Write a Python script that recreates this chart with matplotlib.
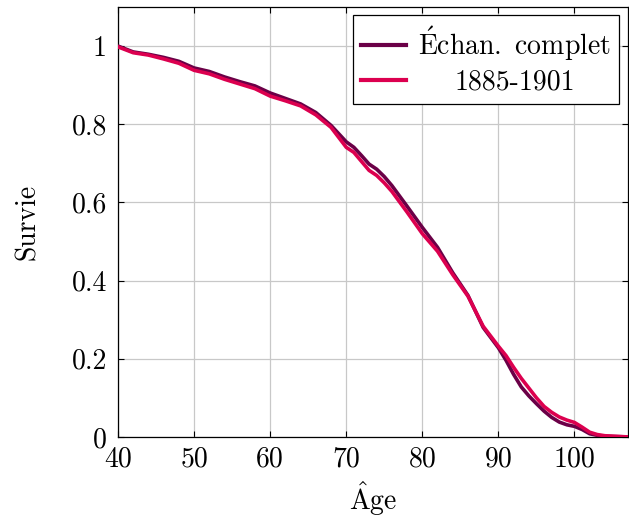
import matplotlib
matplotlib.use('Agg')
import matplotlib.pyplot as plt

# ages and survival values
ages = [40, 42, 44, 46, 48, 50, 52, 54, 56, 58, 60, 62, 64, 66, 68, 70, 71, 72, 73,
        74, 75, 76, 78, 80, 82, 84, 86, 88, 90, 91, 92, 93, 94, 95, 96, 97, 98, 99,
        100, 101, 102, 103, 104, 105, 107]

surv_all = [1.000, 0.985, 0.979, 0.971, 0.961, 0.944, 0.935, 0.921, 0.909, 0.898,
            0.880, 0.866, 0.852, 0.830, 0.797, 0.755, 0.741, 0.720, 0.698, 0.685,
            0.666, 0.643, 0.590, 0.536, 0.485, 0.420, 0.362, 0.280, 0.228, 0.196,
            0.160, 0.128, 0.105, 0.085, 0.066, 0.050, 0.038, 0.031, 0.027, 0.019,
            0.008, 0.004, 0.002, 0.001, 0.000]

surv_1885 = [0.998, 0.983, 0.977, 0.967, 0.956, 0.938, 0.929, 0.915, 0.903, 0.891,
             0.872, 0.860, 0.847, 0.824, 0.792, 0.741, 0.728, 0.705, 0.682, 0.669,
             0.650, 0.628, 0.575, 0.520, 0.475, 0.415, 0.360, 0.283, 0.232, 0.208,
             0.178, 0.150, 0.125, 0.100, 0.078, 0.063, 0.051, 0.043, 0.037, 0.025,
             0.012, 0.006, 0.003, 0.002, 0.000]

series_labels = [r'$\mathrm{\acute{E}chan.\ complet}$', '1885-1901']

x_ticks = [40, 50, 60, 70, 80, 90, 100]
y_ticks = [0, 0.2, 0.4, 0.6, 0.8, 1]
y_tick_labels = ['0', '0.2', '0.4', '0.6', '0.8', '1']

plt.rcParams['font.family'] = ['cmr10', 'DejaVu Serif']
plt.rcParams['mathtext.fontset'] = 'cm'
plt.rcParams['axes.unicode_minus'] = False
plt.rcParams['font.size'] = 20


def main():
    fig = plt.figure(figsize=(6.29, 5.22), dpi=100)
    ax = fig.add_axes([0.1876, 0.163, 0.8104, 0.8236])

    ax.plot(ages, surv_all, color='#6b0047', lw=2.6, label=series_labels[0], zorder=3)
    ax.plot(ages, surv_1885, color='#dc004f', lw=2.6, label=series_labels[1], zorder=3)

    ax.set_xlim(40, 107)
    ax.set_ylim(0, 1.1)
    ax.set_xticks(x_ticks)
    ax.set_yticks(y_ticks)
    ax.set_yticklabels(y_tick_labels)

    ax.grid(True, color='#c8c8c8', lw=0.9)
    ax.set_axisbelow(True)
    ax.tick_params(direction='in', top=True, right=True, length=4, width=0.8,
                   labelsize=20)
    ax.tick_params(axis='x', pad=7)
    ax.tick_params(axis='y', pad=8)
    for s in ax.spines.values():
        s.set_linewidth(0.9)

    ax.set_xlabel(r'$\mathrm{\hat{A}ge}$', fontsize=20, labelpad=4)
    ax.set_ylabel('Survie', fontsize=20, labelpad=22)

    leg = ax.legend(loc='upper right', fancybox=False, edgecolor='black',
                    framealpha=1, borderaxespad=0.3, handlelength=1.6,
                    handletextpad=0.45, labelspacing=0.25, borderpad=0.3)
    leg.get_frame().set_linewidth(0.9)
    for h in leg.get_lines():
        h.set_linewidth(3.0)

    # center the shorter legend entry like pgfplots does
    fig.canvas.draw()
    texts = leg.get_texts()
    r = fig.canvas.get_renderer()
    w0 = texts[0].get_window_extent(r).width
    w1 = texts[1].get_window_extent(r).width
    texts[1].set_x((w0 - w1) / 2)

    fig.savefig('out.png', dpi=100)


if __name__ == '__main__':
    main()
